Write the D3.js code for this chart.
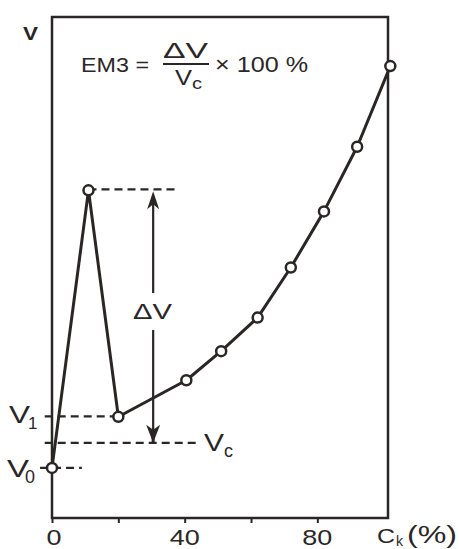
<!DOCTYPE html>
<html>
<head>
<meta charset="utf-8">
<script src="https://cdn.jsdelivr.net/npm/d3@7"></script>
<style>
  body { margin: 0; background: #fff; }
  svg text { font-family: "Liberation Sans", Arial, sans-serif; fill: #2b2626; }
</style>
</head>
<body>
<div id="chart"></div>
<script>
// datos
const ck = [0, 11, 20, 40.5, 51, 62, 72, 82, 92, 102];
const volume = [10, 65.4, 20.2, 27.5, 33.3, 40, 50, 61.2, 74.1, 90.2];
const xTicks = [0, 20, 40, 60, 80];
const xTickLabels = ["0", "40", "80"];
const xTickLabelValues = [0, 40, 80];

// niveles de referencia
const v0 = 10;
const v1 = 20.3;
const vc = 15;
const vPeak = 65.6;

const ink = "#2b2626";
const width = 459;
const height = 549;
const frame = { left: 52, right: 388, top: 17, bottom: 518 };

const svg = d3.select("#chart")
  .append("svg")
  .attr("width", width)
  .attr("height", height);

const x = d3.scaleLinear().domain([0, 101.3]).range([frame.left, frame.right]);
const y = d3.scaleLinear().domain([0, 100]).range([frame.bottom, frame.top]);

// texto con ancho fijo (la fuente original es mas ancha)
const label = (xp, yp, str, size, len, anchor = "start") => {
  const t = svg.append("text")
    .attr("x", xp)
    .attr("y", yp)
    .attr("font-size", size)
    .attr("text-anchor", anchor)
    .text(str);
  if (len) t.attr("textLength", len).attr("lengthAdjust", "spacingAndGlyphs");
  return t;
};

// marco
svg.append("rect")
  .attr("x", frame.left)
  .attr("y", frame.top)
  .attr("width", frame.right - frame.left)
  .attr("height", frame.bottom - frame.top)
  .attr("fill", "none")
  .attr("stroke", ink)
  .attr("stroke-width", 2.5);

// eje x con marcas hacia abajo
const xAxis = svg.append("g")
  .attr("transform", `translate(0,${frame.bottom})`)
  .call(d3.axisBottom(x).tickValues(xTicks).tickSize(5).tickFormat(""));
xAxis.select(".domain").remove();
xAxis.selectAll("line").attr("stroke", ink).attr("stroke-width", 2);

xTickLabelValues.forEach((d, i) => {
  const w = xTickLabels[i].length * 15;
  label(x(d) + (d === 0 ? 2 : 0) - w / 2, 545, xTickLabels[i], 22, w);
});

label(377, 543, "C", 21, 18);
label(396, 546, "k", 14);
label(407, 543, "(%)", 23, 50);

// lineas discontinuas
const dashed = [
  { y: vPeak, x0: 11, x1: 38 },
  { y: v1, x0: -2.2, x1: 20 },
  { y: vc, x0: -2.2, x1: 44.6 },
  { y: v0, x0: -3.6, x1: 9 },
];
svg.selectAll(".dash")
  .data(dashed)
  .join("line")
  .attr("class", "dash")
  .attr("x1", (d) => x(d.x0))
  .attr("x2", (d) => x(d.x1))
  .attr("y1", (d) => y(d.y))
  .attr("y2", (d) => y(d.y))
  .attr("stroke", ink)
  .attr("stroke-width", 2.2)
  .attr("stroke-dasharray", "8,5");

// flecha doble de delta V
const arrowX = x(30.5);
const yTop = y(vPeak) + 2;
const yBot = y(vc);
svg.append("line")
  .attr("x1", arrowX).attr("x2", arrowX)
  .attr("y1", yTop + 10).attr("y2", 293)
  .attr("stroke", ink).attr("stroke-width", 2.2);
svg.append("line")
  .attr("x1", arrowX).attr("x2", arrowX)
  .attr("y1", 330).attr("y2", yBot - 10)
  .attr("stroke", ink).attr("stroke-width", 2.2);
svg.append("path")
  .attr("d", `M${arrowX},${yTop} L${arrowX - 6},${yTop + 18} L${arrowX},${yTop + 13} L${arrowX + 6},${yTop + 18} Z`)
  .attr("fill", ink);
svg.append("path")
  .attr("d", `M${arrowX},${yBot} L${arrowX - 7},${yBot - 18} L${arrowX},${yBot - 13} L${arrowX + 7},${yBot - 18} Z`)
  .attr("fill", ink);
svg.append("line")
  .attr("x1", arrowX).attr("x2", arrowX)
  .attr("y1", yBot - 14).attr("y2", yBot)
  .attr("stroke", ink).attr("stroke-width", 3);

label(133, 319, "\u0394V", 22, 39);

// curva
const line = d3.line().x((d) => x(d[0])).y((d) => y(d[1]));
const points = ck.map((c, i) => [c, volume[i]]);

svg.append("path")
  .datum(points)
  .attr("d", line)
  .attr("fill", "none")
  .attr("stroke", ink)
  .attr("stroke-width", 3)
  .attr("stroke-linejoin", "round");

svg.selectAll(".pt")
  .data(points)
  .join("circle")
  .attr("class", "pt")
  .attr("cx", (d) => x(d[0]))
  .attr("cy", (d) => y(d[1]))
  .attr("r", 5)
  .attr("fill", "#fff")
  .attr("stroke", ink)
  .attr("stroke-width", 2.5);

// etiquetas de niveles
label(9, 423, "V", 24, 21);
label(28, 429, "1", 17);
label(7, 477, "V", 24, 22);
label(25, 483, "0", 18, 10);
label(204, 451, "V", 23, 20);
label(224, 457, "c", 18, 9);

// titulo del eje y
label(23, 40, "V", 19, 15).attr("font-weight", "bold");

// formula
label(81, 72, "EM3 =", 21, 68);
label(163, 58, "\u0394V", 22, 45);
svg.append("line")
  .attr("x1", 163).attr("x2", 209)
  .attr("y1", 64).attr("y2", 64)
  .attr("stroke", ink).attr("stroke-width", 1.8);
label(175, 85, "V", 22, 17);
label(192, 89, "c", 17, 10);
label(215, 72, "\u00d7 100 %", 22, 93);
</script>
</body>
</html>
